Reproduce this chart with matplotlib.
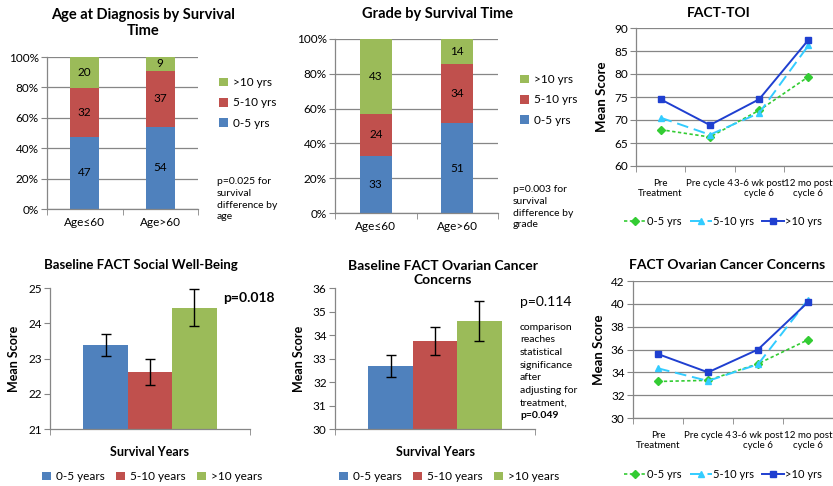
import matplotlib
matplotlib.use('Agg')
import matplotlib.pyplot as plt
import numpy as np

plt.rcParams['font.family'] = ['Lato', 'DejaVu Sans']

# data
groups = ['0-5 yrs', '5-10 yrs', '>10 yrs']
age_cats = ['Age≤60', 'Age>60']
age_counts = {'0-5 yrs': [47, 54], '5-10 yrs': [32, 37], '>10 yrs': [20, 9]}
grade_cats = ['Age≤60', 'Age>60']
grade_counts = {'0-5 yrs': [33, 51], '5-10 yrs': [24, 34], '>10 yrs': [43, 14]}

time_labels = ['Pre\nTreatment', 'Pre cycle 4', '3-6 wk post\ncycle 6', '12 mo post\ncycle 6']
toi = {'0-5 yrs': [67.9, 66.3, 72.1, 79.4],
       '5-10 yrs': [70.5, 66.8, 71.5, 86.2],
       '>10 yrs': [74.5, 68.9, 74.5, 87.4]}
occ = {'0-5 yrs': [33.2, 33.3, 34.75, 36.85],
       '5-10 yrs': [34.35, 33.25, 34.7, 40.35],
       '>10 yrs': [35.6, 34.0, 36.0, 40.15]}

year_groups = ['0-5 years', '5-10 years', '>10 years']
social_mean = [23.39, 22.62, 24.44]
social_err = [0.31, 0.36, 0.53]
ovarian_mean = [32.69, 33.75, 34.61]
ovarian_err = [0.46, 0.60, 0.85]

ovarian_note = ['comparison', 'reaches', 'statistical', 'significance',
                'after', 'adjusting for', 'treatment,']

bar_colors = ['#4F81BD', '#C0504D', '#9BBB59']
line_colors = ['#33CC33', '#33CCFF', '#1F3FD0']
grid_c = '#868686'
W, H = 833, 486

fig = plt.figure(figsize=(W / 100, H / 100), dpi=100)


def box(x0, x1, top, bottom):
    return [x0 / W, 1 - bottom / H, (x1 - x0) / W, (bottom - top) / H]


def fy(y):
    return 1 - y / H


def style_axes(ax, grid=True):
    for s in ['top', 'right']:
        ax.spines[s].set_visible(False)
    for s in ['left', 'bottom']:
        ax.spines[s].set_color(grid_c)
        ax.spines[s].set_linewidth(0.9)
    ax.tick_params(axis='y', length=4, color=grid_c, labelsize=8.5, pad=2)
    ax.tick_params(axis='x', length=0, labelsize=8.5, pad=6)
    if grid:
        ax.yaxis.grid(True, color=grid_c, lw=0.9)
        ax.set_axisbelow(True)


def stacked(ax, cats, counts, ptext, px, py, lx, ly):
    x = np.arange(len(cats))
    totals = np.sum([counts[g] for g in groups], axis=0)
    bottom = np.zeros(len(cats))
    handles = []
    for g, c in zip(groups, bar_colors):
        vals = np.array(counts[g])
        pct = vals / totals * 100
        b = ax.bar(x, pct, 0.39, bottom=bottom, color=c, edgecolor='none', label=g)
        for xi, bi, pi, v in zip(x, bottom, pct, vals):
            ax.text(xi, bi + pi / 2, str(v), ha='center', va='center', fontsize=8.5)
        bottom += pct
        handles.append(b)
    ax.set_ylim(0, 100)
    ax.set_yticks(np.arange(0, 101, 20))
    ax.set_yticklabels([f'{v}%' for v in range(0, 101, 20)])
    ax.set_xlim(-0.5, len(cats) - 0.5)
    ax.set_xticks(x)
    ax.set_xticklabels(cats)
    ax.set_xticks(np.arange(-0.5, len(cats)), minor=True)
    style_axes(ax)
    ax.tick_params(axis='x', which='minor', length=4, color=grid_c)
    fig.legend(handles[::-1], groups[::-1], loc='upper left',
               bbox_to_anchor=(lx / W, fy(ly)), frameon=False,
               fontsize=8.5, handlelength=0.75, handleheight=0.75,
               handletextpad=0.4, labelspacing=0.8, borderpad=0, borderaxespad=0)
    fig.text(px / W, fy(py), ptext, fontsize=7.5, va='top', ha='left', linespacing=1.4)


ax1 = fig.add_axes(box(47, 198, 57, 209))
stacked(ax1, age_cats, age_counts,
        'p=0.025 for\nsurvival\ndifference by\nage', 217, 177, 219, 77)
fig.text(143 / W, fy(23), 'Age at Diagnosis by Survival\nTime', ha='center', va='center',
         fontsize=10.5, fontweight='bold', linespacing=1.2)

ax2 = fig.add_axes(box(335, 498, 39, 213))
stacked(ax2, grade_cats, grade_counts,
        'p=0.003 for\nsurvival\ndifference by\ngrade', 513, 185, 520, 74)
fig.text(438 / W, fy(14), 'Grade by Survival Time', ha='center', va='center',
         fontsize=10.5, fontweight='bold')


def lines(ax, data, ylim, step, title, tx, ty, legy):
    x = np.arange(len(time_labels))
    styles = [dict(ls=(0, (2, 1.5)), marker='D', ms=4, lw=1.2),
              dict(ls=(0, (6, 3)), marker='^', ms=5, lw=1.4),
              dict(ls='-', marker='s', ms=4.5, lw=1.4)]
    for g, c, st in zip(groups, line_colors, styles):
        ax.plot(x, data[g], color=c, mfc=c, mec=c, label=g, **st)
    ax.set_ylim(*ylim)
    ax.set_yticks(np.arange(ylim[0], ylim[1] + 0.1, step))
    ax.set_xlim(-0.5, len(x) - 0.5)
    ax.set_xticks(x)
    ax.set_xticklabels(time_labels)
    ax.set_xticks(np.arange(-0.5, len(x)), minor=True)
    style_axes(ax)
    ax.tick_params(axis='x', which='minor', length=4, color=grid_c)
    ax.tick_params(axis='x', labelsize=7, pad=9)
    ax.set_ylabel('Mean Score', fontsize=9.5, fontweight='bold', labelpad=4)
    fig.text(tx / W, fy(ty), title, ha='center', va='center',
             fontsize=10, fontweight='bold')
    ax.legend(loc='upper left', bbox_to_anchor=(624 / W, fy(legy)),
              bbox_transform=fig.transFigure, ncol=3, frameon=False, fontsize=8,
              handlelength=2.0, handletextpad=0.1, columnspacing=0.7,
              borderpad=0, borderaxespad=0)


ax3 = fig.add_axes(box(636, 833, 28, 166))
lines(ax3, toi, (60, 90), 5, 'FACT-TOI', 719, 13, 216)

ax6 = fig.add_axes(box(633, 833, 281, 418))
lines(ax6, occ, (30, 42), 2, 'FACT Ovarian Cancer Concerns', 727, 265, 469)


def means(ax, mean, err, ylim):
    offs = np.array([-1, 0, 1]) * 0.222
    handles = []
    for o, m, e, c, lab in zip(offs, mean, err, bar_colors, year_groups):
        b = ax.bar(o, m - ylim[0], 0.222, bottom=ylim[0], color=c, edgecolor='none', label=lab)
        ax.errorbar(o, m, yerr=e, color='black', capsize=3.5, lw=1, capthick=1)
        handles.append(b)
    ax.set_ylim(*ylim)
    ax.set_yticks(np.arange(ylim[0], ylim[1] + 0.1, 1))
    ax.set_xlim(-0.5, 0.5)
    ax.set_xticks([])
    ax.set_xticks([-0.5, 0.5], minor=True)
    style_axes(ax, grid=False)
    ax.tick_params(axis='x', which='minor', length=4, color=grid_c)
    ax.set_xlabel('Survival Years', fontsize=9, fontweight='bold', labelpad=5)
    ax.set_ylabel('Mean Score', fontsize=9, fontweight='bold', labelpad=6)
    return handles


ax4 = fig.add_axes(box(50, 250, 288, 429))
h4 = means(ax4, social_mean, social_err, (21, 25))
fig.text(141 / W, fy(265), 'Baseline FACT Social Well-Being', ha='center', va='center',
         fontsize=9.5, fontweight='bold')
fig.text(223 / W, fy(298), 'p=0.018', fontsize=10, fontweight='bold', va='center')
fig.legend(h4, year_groups, loc='upper left', bbox_to_anchor=(42 / W, fy(471)),
           ncol=3, frameon=False, fontsize=8.5, handlelength=0.75, handleheight=0.75,
           handletextpad=0.4, columnspacing=1.0, borderpad=0, borderaxespad=0)

ax5 = fig.add_axes(box(335, 535, 288, 429))
h5 = means(ax5, ovarian_mean, ovarian_err, (30, 36))
fig.text(443 / W, fy(273), 'Baseline FACT Ovarian Cancer\nConcerns', ha='center', va='center',
         fontsize=10, fontweight='bold', linespacing=1.2)
fig.text(520 / W, fy(302), 'p=0.114', fontsize=10, va='center')
for i, line in enumerate(ovarian_note):
    fig.text(520 / W, fy(327 + 12.7 * i), line, fontsize=7.5, va='center')
fig.text(520 / W, fy(327 + 12.7 * len(ovarian_note)), 'p=0.049', fontsize=7.5,
         fontweight='bold', va='center')
fig.legend(h5, year_groups, loc='upper left', bbox_to_anchor=(339 / W, fy(471)),
           ncol=3, frameon=False, fontsize=8.5, handlelength=0.75, handleheight=0.75,
           handletextpad=0.4, columnspacing=1.0, borderpad=0, borderaxespad=0)

fig.savefig('out.png', dpi=100)
